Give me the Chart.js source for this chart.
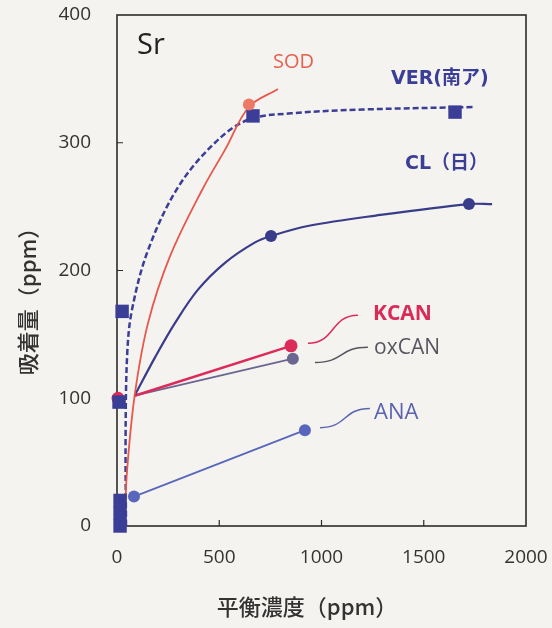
<!DOCTYPE html>
<html>
<head>
<meta charset="utf-8">
<script src="https://cdn.jsdelivr.net/npm/chart.js@4.4.1/dist/chart.umd.min.js"></script>
<style>
  html, body { margin: 0; padding: 0; background: #f5f3ef; }
  #wrap { width: 552px; height: 628px; }
</style>
</head>
<body>
<div id="wrap"><canvas id="chart" width="552" height="628"></canvas></div>
<script>
// tick labels
const xTicks = [0, 500, 1000, 1500, 2000];
const yTicks = [0, 100, 200, 300, 400];

// measured points (x = equilibrium conc., y = adsorbed amount, ppm)
const sodPoints = [{x: 645, y: 330}];
const verPoints = [{x: 15, y: 0}, {x: 15, y: 10}, {x: 15, y: 20}, {x: 10, y: 97}, {x: 25, y: 168}, {x: 665, y: 321}, {x: 1653, y: 324}];
const clPoints = [{x: 753, y: 227}, {x: 1721, y: 252}];
const kcanPoints = [{x: 5, y: 100}, {x: 851, y: 141}];
const oxcanPoints = [{x: 860, y: 131}];
const anaPoints = [{x: 83, y: 23}, {x: 919, y: 75}];

// fitted curves
const sodCurve = [{x: 36, y: 0}, {x: 50, y: 45}, {x: 88, y: 104}, {x: 152, y: 159}, {x: 259, y: 211}, {x: 416, y: 263}, {x: 530, y: 295}, {x: 645, y: 328}, {x: 787, y: 342}];
const verCurve = [{x: 44, y: 0}, {x: 42, y: 70}, {x: 50, y: 135}, {x: 73, y: 169}, {x: 152, y: 216}, {x: 298, y: 265}, {x: 479, y: 300}, {x: 641, y: 318}, {x: 850, y: 323}, {x: 1200, y: 326}, {x: 1750, y: 328}];
const clCurve = [{x: 86, y: 102}, {x: 186, y: 132}, {x: 284, y: 159}, {x: 396, y: 185}, {x: 528, y: 206}, {x: 675, y: 222}, {x: 753, y: 227}, {x: 939, y: 235}, {x: 1266, y: 243}, {x: 1721, y: 252}, {x: 1834, y: 252}];
const kcanLine = [{x: 86, y: 102}, {x: 851, y: 141}];
const oxcanLine = [{x: 86, y: 102}, {x: 860, y: 131}];
const anaLine = [{x: 83, y: 23}, {x: 919, y: 75}];

const C_SOD = "#e8574c";
const C_VER = "#3b3e96";
const C_CL = "#393c8a";
const C_KCAN = "#dc2a5a";
const C_OX = "#6a6690";
const C_ANA = "#5867bb";

const fontLatin = '"Open Sans", "Noto Sans CJK JP", sans-serif';
const fontWide = '"DejaVu Sans", "Noto Sans CJK JP", sans-serif';
const fontCJK = '"Noto Sans CJK JP", sans-serif';

function curve(data, color, width, dash) {
    return {
        data: data, showLine: true, borderColor: color, borderWidth: width,
        borderDash: dash || [], pointRadius: 0, tension: 0.35,
        clip: false, order: 2
    };
}

function straight(data, color, width) {
    return {
        data: data, showLine: true, borderColor: color, borderWidth: width,
        pointRadius: 0, clip: false, order: 2
    };
}

function marks(data, color, style, radius) {
    return {
        data: data, showLine: false, pointStyle: style, pointRadius: radius,
        backgroundColor: color, borderColor: color, borderWidth: 0,
        clip: false, order: 1
    };
}

const notes = [
    {text: "Sr", x: 98, y: 376, color: "#222", font: "500 29px " + fontLatin},
    {text: "SOD", x: 763, y: 363, color: "#e8604f", font: "500 20px " + fontLatin},
    {text: "VER(南ア)", x: 1340, y: 350, color: C_VER, font: "bold 19px " + fontWide},
    {text: "CL（日）", x: 1408, y: 283, color: C_VER, font: "bold 19px " + fontWide},
    {text: "KCAN", x: 1252, y: 166, color: "#d92a58", font: "700 21px " + fontLatin},
    {text: "oxCAN", x: 1257, y: 139, color: "#55555f", font: "500 21px " + fontLatin},
    {text: "ANA", x: 1257, y: 89, color: "#5a64b0", font: "500 22px " + fontLatin}
];

const leaders = [
    {from: {x: 934, y: 143}, to: {x: 1178, y: 165}, color: C_KCAN},
    {from: {x: 968, y: 128}, to: {x: 1227, y: 140}, color: "#55555f"},
    {from: {x: 993, y: 77}, to: {x: 1237, y: 92}, color: "#5a64b0"}
];

const framePlugin = {
    id: "frame",
    beforeDatasetsDraw(chart) {
        const {ctx, chartArea: a, scales} = chart;
        ctx.save();
        ctx.strokeStyle = "#2b2b2b";
        ctx.lineWidth = 1.6;
        ctx.strokeRect(a.left, a.top, a.right - a.left, a.bottom - a.top);
        ctx.lineWidth = 1.2;
        ctx.beginPath();
        yTicks.slice(1, -1).forEach(v => {
            const py = scales.y.getPixelForValue(v);
            ctx.moveTo(a.left, py);
            ctx.lineTo(a.left + 6, py);
        });
        xTicks.slice(1, -1).forEach(v => {
            const px = scales.x.getPixelForValue(v);
            ctx.moveTo(px, a.bottom);
            ctx.lineTo(px, a.bottom - 6);
        });
        ctx.stroke();
        ctx.restore();
    },
    afterDatasetsDraw(chart) {
        const {ctx, chartArea: a, scales} = chart;
        const X = v => scales.x.getPixelForValue(v);
        const Y = v => scales.y.getPixelForValue(v);
        ctx.save();
        leaders.forEach(l => {
            const x0 = X(l.from.x), y0 = Y(l.from.y), x1 = X(l.to.x), y1 = Y(l.to.y);
            const dx = x1 - x0;
            ctx.strokeStyle = l.color;
            ctx.lineWidth = 1.5;
            ctx.beginPath();
            ctx.moveTo(x0, y0);
            ctx.bezierCurveTo(x0 + dx * 0.55, y0, x1 - dx * 0.55, y1, x1, y1);
            ctx.stroke();
        });
        ctx.textAlign = "left";
        ctx.textBaseline = "middle";
        notes.forEach(n => {
            ctx.font = n.font;
            ctx.fillStyle = n.color;
            ctx.fillText(n.text, X(n.x), Y(n.y));
        });
        // axis titles
        ctx.fillStyle = "#333";
        ctx.font = "500 22px " + fontCJK;
        ctx.textAlign = "center";
        ctx.fillText("平衡濃度（ppm）", a.left + 190, 607);
        ctx.translate(28, 296);
        ctx.rotate(-Math.PI / 2);
        ctx.fillText("吸着量（ppm）", 0, 0);
        ctx.restore();
    }
};

const hiddenGrid = {display: true, drawOnChartArea: false, drawTicks: true, color: "rgba(0,0,0,0)"};

new Chart(document.getElementById("chart"), {
    type: "scatter",
    data: {
        datasets: [
            curve(sodCurve, C_SOD, 1.8),
            curve(verCurve, C_VER, 2.5, [6, 3]),
            curve(clCurve, C_CL, 2.2),
            straight(kcanLine, C_KCAN, 2.6),
            straight(oxcanLine, C_OX, 1.8),
            straight(anaLine, C_ANA, 1.8),
            marks(sodPoints, "#ec7a64", "circle", 6),
            marks(verPoints, C_VER, "rect", 9.5),
            marks(clPoints, C_CL, "circle", 6),
            marks(kcanPoints, C_KCAN, "circle", 6.5),
            marks(oxcanPoints, C_OX, "circle", 6),
            marks(anaPoints, C_ANA, "circle", 6)
        ]
    },
    options: {
        responsive: false,
        animation: false,
        layout: {padding: {top: 15, right: 26, left: 0, bottom: 0}},
        plugins: {legend: {display: false}, tooltip: {enabled: false}},
        scales: {
            x: {
                type: "linear", min: 0, max: 2000,
                afterBuildTicks: s => { s.ticks = xTicks.map(v => ({value: v})); },
                afterFit: s => { s.height = 102; },
                grid: Object.assign({tickLength: 20}, hiddenGrid),
                border: {display: false},
                ticks: {color: "#333", padding: 0, font: {family: "Open Sans", size: 19}, callback: v => String(v)}
            },
            y: {
                type: "linear", min: 0, max: 400,
                afterBuildTicks: s => { s.ticks = yTicks.map(v => ({value: v})); },
                afterFit: s => { s.width = 117; },
                grid: Object.assign({tickLength: 26}, hiddenGrid),
                border: {display: false},
                ticks: {color: "#333", padding: 0, font: {family: "Open Sans", size: 19}, callback: v => String(v)}
            }
        }
    },
    plugins: [framePlugin]
});
</script>
</body>
</html>
